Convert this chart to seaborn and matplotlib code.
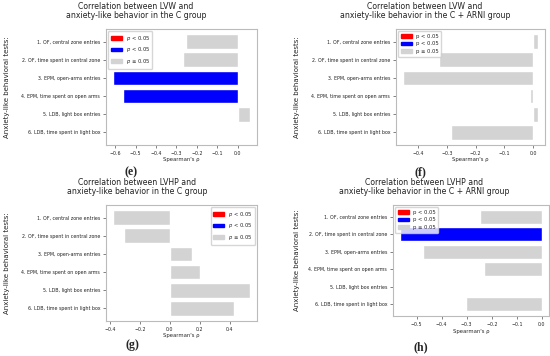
import numpy as np
import pandas as pd
import matplotlib
matplotlib.use("Agg")
import matplotlib.pyplot as plt
import seaborn as sns
from matplotlib.patches import Patch


# ==========================================
# DATA
# ==========================================

tests = [
    "1. OF, central zone entries",
    "2. OF, time spent in central zone",
    "3. EPM, open-arms entries",
    "4. EPM, time spent on open arms",
    "5. LDB, light box entries",
    "6. LDB, time spent in light box",
]

# Spearman's rho per test
rho_e = [-0.252, -0.268, -0.612, -0.560, 0.062, 0.003]
rho_f = [0.018, -0.327, -0.453, -0.010, 0.018, -0.287]
rho_g = [-0.382, -0.307, 0.149, 0.204, 0.538, 0.427]
rho_h = [-0.246, -0.566, -0.476, -0.232, -0.004, -0.304]

# significance class: pos = p<0.05 positive, neg = p<0.05 negative, ns = p>=0.05
sig_e = ["ns", "ns", "neg", "neg", "ns", "ns"]
sig_f = ["ns", "ns", "ns", "ns", "ns", "ns"]
sig_g = ["ns", "ns", "ns", "ns", "ns", "ns"]
sig_h = ["ns", "neg", "ns", "ns", "ns", "ns"]

titles = [
    "Correlation between LVW and\nanxiety-like behavior in the C group",
    "Correlation between LVW and\nanxiety-like behavior in the C + ARNI group",
    "Correlation between LVHP and\nanxiety-like behavior in the C group",
    "Correlation between LVHP and\nanxiety-like behavior in the C + ARNI group",
]

panel_tags = ["(e)", "(f)", "(g)", "(h)"]

palette = {"pos": "red", "neg": "blue", "ns": "lightgray"}


# ==========================================
# FIGURE
# ==========================================

sns.set_style("ticks")
plt.rcParams["font.family"] = ["DejaVu Sans"]

W, H = 550, 356
fig = plt.figure(figsize=(W / 100, H / 100), dpi=100)


def px_box(left, top, right, bottom):
    return [left / W, 1 - bottom / H, (right - left) / W, (bottom - top) / H]


panels = [
    dict(rho=rho_e, sig=sig_e, box=(106, 29, 257, 145), legend="upper left",
         italic=True, title_xy=(136, 11), ylab_x=7, tag_xy=(131, 172)),
    dict(rho=rho_f, sig=sig_f, box=(396, 29, 545, 145), legend="upper left",
         italic=False, title_xy=(425, 11), ylab_x=297, tag_xy=(420, 172)),
    dict(rho=rho_g, sig=sig_g, box=(106, 205, 257, 321), legend="upper right",
         italic=True, title_xy=(137, 187), ylab_x=7, tag_xy=(132, 345)),
    dict(rho=rho_h, sig=sig_h, box=(393, 205, 549, 316), legend="upper left",
         italic=False, title_xy=(424, 187), ylab_x=297, tag_xy=(421, 347)),
]

for i, p in enumerate(panels):

    ax = fig.add_axes(px_box(*p["box"]))

    df = pd.DataFrame({"test": tests, "rho": p["rho"], "sig": p["sig"]})

    sns.barplot(
        data=df, x="rho", y="test", hue="sig", palette=palette,
        dodge=False, errorbar=None, legend=False, width=0.8,
        saturation=1, ax=ax,
    )

    # matplotlib barh style margins instead of seaborn's categorical limits
    ax.set_ylim(5.69, -0.69)
    lo = min(min(p["rho"]), 0)
    hi = max(max(p["rho"]), 0)
    pad = 0.05 * (hi - lo)
    ax.set_xlim(lo - pad, hi + pad)

    ax.set_ylabel("")
    ax.set_xlabel("Spearman's ρ", fontsize=3.8, labelpad=1.2)
    ax.tick_params(axis="both", labelsize=3.4, length=2.0, width=0.4,
                   pad=2.2, colors="#222222")

    for s in ax.spines.values():
        s.set_visible(True)
        s.set_color("#bbbbbb")
        s.set_linewidth(0.8)

    lab = r"$p$" if p["italic"] else "p"
    handles = [
        Patch(color="red", label=f"{lab} < 0.05"),
        Patch(color="blue", label=f"{lab} < 0.05"),
        Patch(color="lightgray", label=f"{lab} ≥ 0.05"),
    ]
    ax.legend(handles=handles, loc=p["legend"], fontsize=3.8, frameon=True,
              handlelength=2.1, handleheight=0.75, borderpad=0.5,
              labelspacing=0.5, borderaxespad=0.4, handletextpad=0.7)

    tx, ty = p["title_xy"]
    fig.text(tx / W, 1 - ty / H, titles[i], ha="center", va="center",
             fontsize=5.6, linespacing=1.1, color="#222222")

    fig.text(p["ylab_x"] / W, 1 - (p["box"][1] + p["box"][3]) / 2 / H,
             "Anxiety-like behavioral tests:", rotation=90,
             ha="center", va="center", fontsize=5.0, color="#222222")

    gx, gy = p["tag_xy"]
    fig.text(gx / W, 1 - gy / H, panel_tags[i], ha="center", va="center",
             fontsize=8.5, family="Liberation Serif", fontweight="bold")

fig.savefig("out.png", dpi=100)
